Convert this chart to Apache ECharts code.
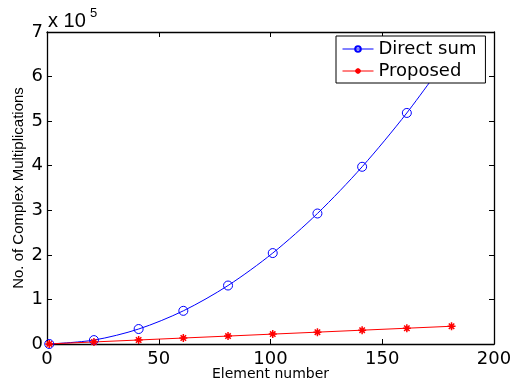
<!DOCTYPE html>
<html>
<head>
<meta charset="utf-8">
<script src="https://cdn.jsdelivr.net/npm/echarts@6/dist/echarts.min.js"></script>
<style>html,body{margin:0;padding:0;background:#fff}#c{width:513px;height:383px}</style>
</head>
<body>
<div id="c"></div>
<script>
var elementNumbers = [1, 21, 41, 61, 81, 101, 121, 141, 161, 181];
var directSum = [20, 8800, 33600, 74400, 131200, 204000, 292800, 397600, 518400, 655200];
var proposed = [200, 4600, 9000, 13400, 17800, 22200, 26600, 31000, 35400, 39800];
var xTicks = [0, 50, 100, 150, 200];
var yTicks = [0, 1, 2, 3, 4, 5, 6, 7];
var yScale = 1e5;
var exponentText = 'x 10';
var exponentPower = '5';

var chart = echarts.init(document.getElementById('c'), null, {renderer: 'canvas'});
var star = 'path://M5,0L5,10M0,5L10,5M1.6,1.6L8.4,8.4M8.4,1.6L1.6,8.4';
var tickFont = 'DejaVu Sans';
function pairs(xs, ys){ return xs.map(function(x,i){ return [x, ys[i]]; }); }

var axisCommon = {
  axisLine: {show: true, onZero: false, lineStyle: {color: '#000', width: 1.3}},
  axisTick: {show: true, inside: true, length: 5, lineStyle: {color: '#000'}},
  splitLine: {show: false}
};

var option = {
  backgroundColor: '#fff',
  animation: false,
  graphic: [{
    type: 'text', left: 48, top: 11,
    style: {text: exponentText, font: 'normal 20px "Liberation Sans"', fill: '#000'}
  }, {
    type: 'text', left: 90, top: 7,
    style: {text: exponentPower, font: 'normal 13px "Liberation Sans"', fill: '#000'}
  }],
  legend: {
    orient: 'vertical',
    left: 336, top: 36,
    padding: [4, 9, 3, 6],
    itemGap: 4,
    itemWidth: 31, itemHeight: 7,
    backgroundColor: '#fff',
    borderColor: '#000', borderWidth: 1,
    lineStyle: {width: 1},
    textStyle: {fontFamily: tickFont, fontSize: 18, color: '#000', lineHeight: 18},
    data: ['Direct sum', 'Proposed']
  },
  grid: {left: 47, right: 19, top: 32, bottom: 39, outerBoundsMode: 'none', containLabel: false},
  xAxis: [Object.assign({
    type: 'value', min: xTicks[0], max: xTicks[xTicks.length-1], interval: 50,
    name: 'Element number', nameLocation: 'middle', nameGap: 23, nameMoveOverlap: false,
    nameTextStyle: {fontFamily: tickFont, fontSize: 14, color: '#000'},
    axisLabel: {fontFamily: tickFont, fontSize: 18, color: '#000', margin: 6}
  }, axisCommon), Object.assign({
    type: 'value', position: 'top', min: xTicks[0], max: xTicks[xTicks.length-1], interval: 50,
    axisLabel: {show: false}
  }, axisCommon)],
  yAxis: [Object.assign({
    type: 'value', min: yTicks[0]*yScale, max: yTicks[yTicks.length-1]*yScale, interval: yScale,
    name: 'No. of Complex Multiplications', nameLocation: 'middle', nameGap: 21, nameMoveOverlap: false,
    nameTextStyle: {fontFamily: 'Liberation Sans', fontSize: 15, color: '#000'},
    axisLabel: {fontFamily: tickFont, fontSize: 18, color: '#000', margin: 4,
      formatter: function(v){ return String(Math.round(v / yScale)); }}
  }, axisCommon), Object.assign({
    type: 'value', position: 'right', min: yTicks[0]*yScale, max: yTicks[yTicks.length-1]*yScale, interval: yScale,
    axisLabel: {show: false}
  }, axisCommon)],
  series: [{
    name: 'Direct sum', type: 'line',
    data: pairs(elementNumbers, directSum),
    smooth: 0.3,
    symbol: 'circle', symbolSize: 9,
    showAllSymbol: true,
    clip: false,
    lineStyle: {color: '#0000ff', width: 1},
    itemStyle: {color: 'rgba(0,0,0,0)', borderColor: '#0000ff', borderWidth: 1},
    z: 3
  }, {
    name: 'Proposed', type: 'line',
    data: pairs(elementNumbers, proposed),
    symbol: star, symbolSize: 8,
    clip: false,
    lineStyle: {color: '#ff0000', width: 1},
    itemStyle: {color: '#ff0000', borderColor: '#ff0000', borderWidth: 1.5},
    z: 3
  }]
};
chart.setOption(option);
</script>
</body>
</html>
